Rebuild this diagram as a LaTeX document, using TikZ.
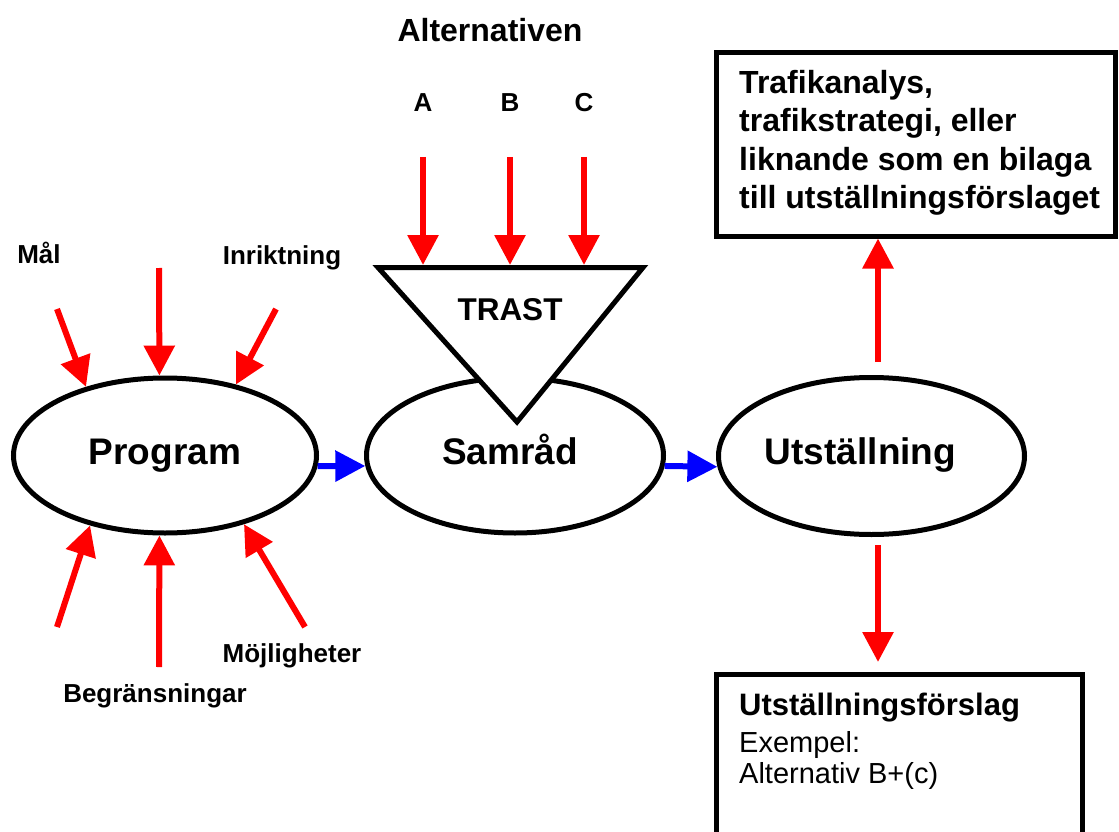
\documentclass[tikz,border=0pt]{standalone}
\usepackage{fontspec}
\setmainfont{Liberation Sans}
\usetikzlibrary{arrows.meta,shapes.geometric,calc}
\begin{document}
\begin{tikzpicture}[x=1pt,y=-1pt,
  ell/.style={ellipse, draw, line width=5pt, fill=white, inner sep=0pt,
    text height=27pt, text depth=10pt,
    font=\fontsize{37}{44}\selectfont\bfseries},
  redarr/.style={draw=red, line width=6pt, -{Triangle[width=30pt,length=30pt]}, red},
  bluearr/.style={draw=blue, line width=6pt, -{Triangle[width=30pt,length=30pt]}, blue},
  lbl/.style={font=\fontsize{26}{31}\selectfont\bfseries, inner sep=0pt, anchor=base},
  bigl/.style={font=\fontsize{31.5}{37}\selectfont\bfseries, inner sep=0pt, anchor=base},
  box/.style={draw, line width=5pt, rectangle, inner sep=0pt, anchor=north west},
  boxtxt/.style={inner sep=0pt, anchor=base west}
]
\useasboundingbox (0,0) rectangle (1119,832);
\clip (0,0) rectangle (1119,832);

% ellipses
\node[ell, minimum width=303pt, minimum height=155pt] (prog) at (165,455.5) {Program};
\node[ell, minimum width=297pt, minimum height=155pt] (sam) at (515,455.5) {\hspace*{-10pt}Samråd};
\node[ell, minimum width=306pt, minimum height=157pt] (ut) at (871.5,456) {\hspace*{-22pt}Utställning};

% triangle TRAST
\coordinate (t1) at (378,267.5);
\coordinate (t2) at (643,267.5);
\coordinate (t3) at (517,422);
\filldraw[fill=white, line width=5pt, line join=miter] (t1) -- (t2) -- (t3) -- cycle;
\node[bigl] (trast) at (510,320) {TRAST};

% flow arrows
\draw[bluearr] (prog.-4.5) -- (sam.184.5);
\draw[bluearr] (sam.-4.5) -- (ut.184.5);

% alternatives
\node[bigl, font=\fontsize{32}{37}\selectfont\bfseries] (alt) at (490,42) {Alternativen};
\node[lbl] (la) at (423,112) {A};
\node[lbl] (lb) at (510,112) {B};
\node[lbl] (lc) at (584,112) {C};
\coordinate (aT) at (423,157); \coordinate (aH) at (423,265);
\coordinate (bT) at (510,157); \coordinate (bH) at (510,265);
\coordinate (cT) at (584,157); \coordinate (cH) at (584,265);
\draw[redarr] (aT) -- (aH);
\draw[redarr] (bT) -- (bH);
\draw[redarr] (cT) -- (cH);

% program inputs
\node[lbl] (mal) at (39,263) {Mål};
\node[lbl] (inr) at (282,264) {Inriktning};
\node[lbl] (moj) at (292,662) {Möjligheter};
\node[lbl] (beg) at (155,702) {Begränsningar};
\coordinate (malT) at (57,309);
\coordinate (topT) at (159,268);
\coordinate (inrT) at (276,309);
\coordinate (blT) at (57,627);
\coordinate (bmT) at (159,667);
\coordinate (brT) at (305,627);
\draw[redarr] (malT) -- (prog.139);
\draw[redarr] (topT) -- (prog.94);
\draw[redarr] (inrT) -- (prog.45);
\draw[redarr] (blT) -- (prog.223.5);
\draw[redarr] (bmT) -- (prog.266);
\draw[redarr] (brT) -- (prog.-41);

% top right box
\node[box, minimum width=399pt, minimum height=183.5pt] (tbox) at (714,50) {};
\node[inner sep=0pt, anchor=north west, align=left,
  font=\fontsize{32}{38.5}\selectfont\bfseries] (ttext) at (739,70)
  {Trafikanalys,\\trafikstrategi, eller\\liknande som en bilaga\\till utställningsförslaget};
\coordinate (uT) at (878,362);
\draw[redarr] (uT) -- (uT |- tbox.south);

% bottom right box
\node[box, minimum width=366pt, minimum height=170pt] (bbox) at (714,672) {};
\node[boxtxt, font=\fontsize{31}{36}\selectfont\bfseries] (b1) at (739,715) {Utställningsförslag};
\node[boxtxt, font=\fontsize{29}{34}\selectfont] (b2) at (739,752) {Exempel:};
\node[boxtxt, font=\fontsize{29}{34}\selectfont] (b3) at (739,783) {Alternativ B+(c)};
\coordinate (dT) at (878,545);
\coordinate (dH) at (878,662);
\draw[redarr] (dT) -- (dH);
\end{tikzpicture}
\end{document}
